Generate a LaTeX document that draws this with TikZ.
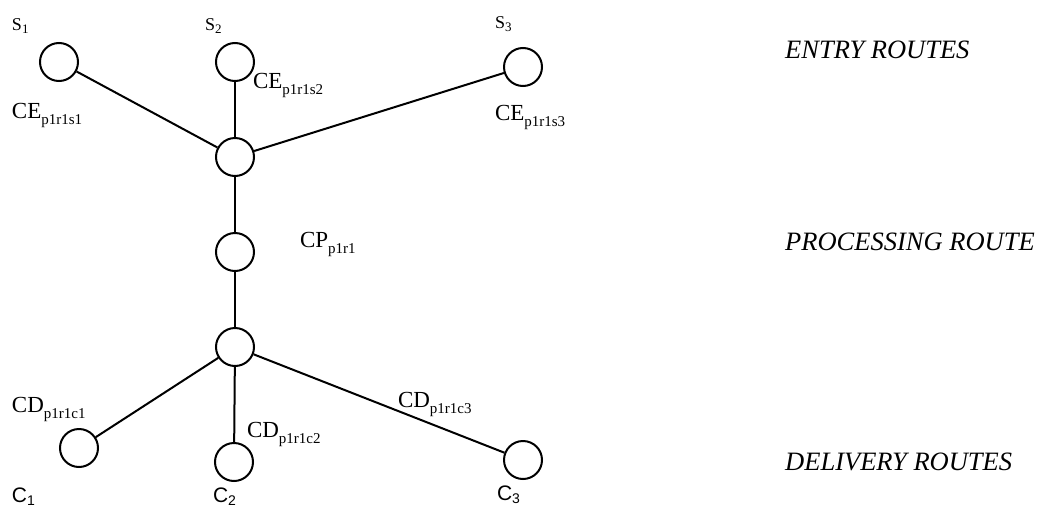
\documentclass[tikz,border=0pt]{standalone}
\usepackage{fontspec}
\setmainfont{Liberation Serif}
\setsansfont{Liberation Sans}
\newcommand{\rlab}[2]{{\fontsize{23}{26}\selectfont #1}\raisebox{-6pt}{\fontsize{15}{18}\selectfont #2}}
\newcommand{\slab}[2]{{\fontsize{18}{20}\selectfont #1}\raisebox{-3pt}{\fontsize{13}{15}\selectfont #2}}
\newcommand{\clab}[2]{{\sffamily\fontsize{21}{24}\selectfont #1}\raisebox{-3pt}{\sffamily\fontsize{14}{16}\selectfont #2}}
\begin{document}
\begin{tikzpicture}[x=1pt,y=-1pt,
  vtx/.style={circle,draw,line width=2pt,minimum size=38pt,inner sep=0pt},
  edge/.style={line width=2pt},
  lbl/.style={anchor=base west,inner sep=0pt,outer sep=0pt},
  route/.style={anchor=base west,inner sep=0pt,font=\itshape\fontsize{26.5}{30}\selectfont}]
\useasboundingbox (0,0) rectangle (1042,509);
% vertices
\node[vtx] (s1) at (59,62) {};
\node[vtx] (s2) at (235,62) {};
\node[vtx] (s3) at (523,67) {};
\node[vtx] (ht) at (235,157) {};
\node[vtx] (m) at (235,252) {};
\node[vtx] (hb) at (235,347) {};
\node[vtx] (c1) at (79,448) {};
\node[vtx] (c2) at (234,462) {};
\node[vtx] (c3) at (523,460) {};
% edges
\draw[edge] (s1) -- (ht);
\draw[edge] (s2) -- (ht);
\draw[edge] (s3) -- (ht);
\draw[edge] (ht) -- (m);
\draw[edge] (m) -- (hb);
\draw[edge] (hb) -- (c1);
\draw[edge] (hb) -- (c2);
\draw[edge] (hb) -- (c3);
% node labels
\node[lbl] (ls1) at (12,30) {\slab{S}{1}};
\node[lbl] (ls2) at (205,30) {\slab{S}{2}};
\node[lbl] (ls3) at (495,28) {\slab{S}{3}};
\node[lbl] (lc1) at (12,502) {\clab{C}{1}};
\node[lbl] (lc2) at (213,502) {\clab{C}{2}};
\node[lbl] (lc3) at (497,500) {\clab{C}{3}};
% route labels
\node[lbl] (ce1) at (12,118) {\rlab{CE}{p1r1s1}};
\node[lbl] (ce2) at (253,88) {\rlab{CE}{p1r1s2}};
\node[lbl] (ce3) at (495,120) {\rlab{CE}{p1r1s3}};
\node[lbl] (cp) at (300,247) {\rlab{CP}{p1r1}};
\node[lbl] (cd1) at (12,412) {\rlab{CD}{p1r1c1}};
\node[lbl] (cd2) at (247,437) {\rlab{CD}{p1r1c2}};
\node[lbl] (cd3) at (398,407) {\rlab{CD}{p1r1c3}};
% legend
\node[route] (entry) at (785,58) {ENTRY ROUTES};
\node[route] (proc) at (785,250) {PROCESSING ROUTE};
\node[route] (deliv) at (785,470) {DELIVERY ROUTES};
\end{tikzpicture}
\end{document}
